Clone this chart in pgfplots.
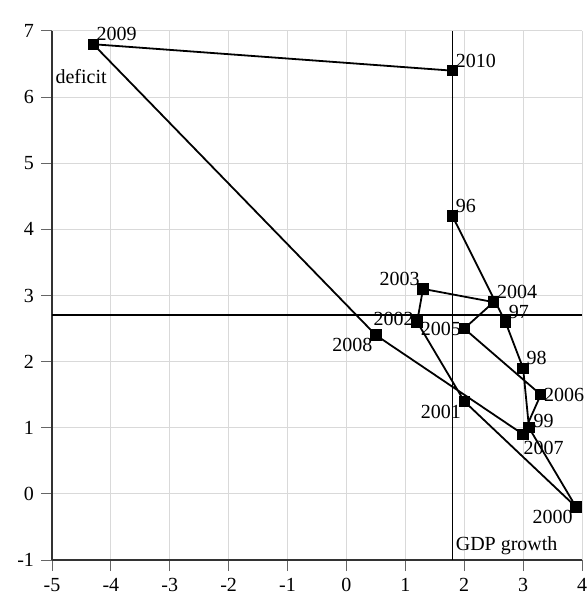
\documentclass[border=0pt]{standalone}
\usepackage{fontspec}
\setmainfont{Liberation Serif}
\usepackage{pgfplots}
\usepackage{pgfplotstable}
\pgfplotsset{compat=1.18}
\tikzset{lbl/.style={inner sep=1.5pt, black}}
\pgfplotstableread{
x y
1.8 4.2
2.7 2.6
3.0 1.9
3.1 1.0
3.9 -0.2
2.0 1.4
1.2 2.6
1.3 3.1
2.5 2.9
2.0 2.5
3.3 1.5
3.0 0.9
0.5 2.4
-4.3 6.8
1.8 6.4
}\datatable
\begin{document}
\begin{tikzpicture}
\begin{axis}[
  width=265pt, height=264.5pt, scale only axis,
  xmin=-5, xmax=4, ymin=-1, ymax=7,
  xtick={-5,...,4}, ytick={-1,...,7},
  axis x line=bottom, axis y line=left,
  axis line style={-, black!80, line width=0.9pt},
  tick align=outside, major tick length=5.5pt,
  tick style={black!60, line width=0.5pt},
  grid=major, grid style={black!15, line width=0.5pt},
  /pgf/number format/assume math mode=true,
  ticklabel style={font=\normalsize},
  clip=false,
]
\draw[black, line width=0.9pt] (axis cs:1.8,-1) -- (axis cs:1.8,7);
\draw[black, line width=0.9pt] (axis cs:-5,2.7) -- (axis cs:4,2.7);
\addplot[black, line width=0.9pt, mark=square*, mark size=2.4pt] table[x=x, y=y] {\datatable};
\node[lbl, anchor=south west] at (axis cs:1.8,4.2) {96};
\node[lbl, anchor=south west] at (axis cs:2.7,2.6) {97};
\node[lbl, anchor=south west] at (axis cs:3.0,1.9) {98};
\node[lbl, anchor=west] at (axis cs:3.12,1.1) {99};
\node[lbl, anchor=north east] at (axis cs:3.9,-0.2) {2000};
\node[lbl, anchor=north east] at (axis cs:2.0,1.4) {2001};
\node[lbl, anchor=east] at (axis cs:1.2,2.65) {2002};
\node[lbl, anchor=south east] at (axis cs:1.3,3.1) {2003};
\node[lbl, anchor=south west] at (axis cs:2.5,2.9) {2004};
\node[lbl, anchor=east] at (axis cs:2.0,2.5) {2005};
\node[lbl, anchor=west] at (axis cs:3.3,1.5) {2006};
\node[lbl, anchor=north west] at (axis cs:2.95,0.85) {2007};
\node[lbl, anchor=north east] at (axis cs:0.5,2.4) {2008};
\node[lbl, anchor=south west] at (axis cs:-4.3,6.8) {2009};
\node[lbl, anchor=south west] at (axis cs:1.8,6.4) {2010};
\node[anchor=north west, inner sep=1pt] at (axis cs:-4.98,6.45) {deficit};
\node[anchor=south west, inner sep=1.5pt] at (axis cs:1.8,-0.98) {GDP growth};
\end{axis}
\pgfresetboundingbox
\path ([xshift=-26pt,yshift=-17.5pt]current axis.south west) rectangle ([xshift=2pt,yshift=15.5pt]current axis.north east);
\end{tikzpicture}
\end{document}
